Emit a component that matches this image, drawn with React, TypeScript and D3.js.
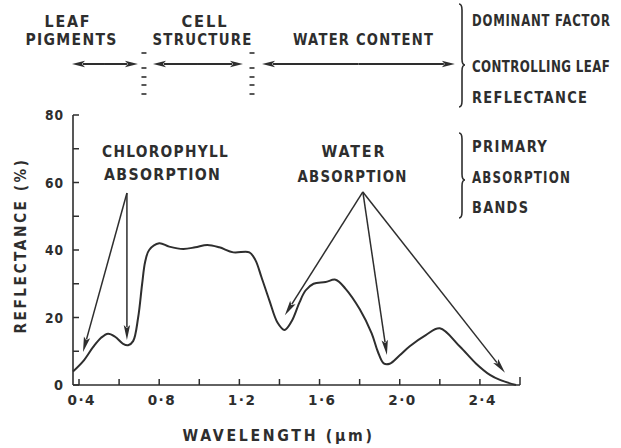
import React from "react";
import * as d3 from "d3";

// Wavelength (µm) and reflectance (%)
const wavelength = [0.37, 0.42, 0.47, 0.51, 0.545, 0.58, 0.62, 0.645, 0.67, 0.695, 0.715, 0.73, 0.75, 0.8, 0.85, 0.92, 0.98, 1.04, 1.1, 1.17, 1.25, 1.28, 1.31, 1.35, 1.39, 1.425, 1.46, 1.5, 1.53, 1.57, 1.63, 1.68, 1.73, 1.8, 1.86, 1.89, 1.92, 1.95, 2.0, 2.05, 2.13, 2.2, 2.3, 2.38, 2.45, 2.5, 2.58];
const reflectance = [4, 7, 11.2, 14, 15.2, 14.3, 12.2, 11.8, 13, 20, 30, 36.5, 40, 42, 41, 40.3, 40.8, 41.5, 40.8, 39.3, 39.3, 37, 32, 25, 18.5, 16.3, 18.8, 24.5, 28, 30, 30.5, 31.2, 28.5, 22.5, 15.3, 10, 6.4, 6.3, 8.8, 11.5, 14.8, 16.8, 11.4, 6.4, 3, 1.5, 0];

const yTicks = [0, 10, 20, 30, 40, 50, 60, 70, 80];
const yLabels = [0, 20, 40, 60, 80];
const xTicks = [0.4, 0.6, 0.8, 1.0, 1.2, 1.4, 1.6, 1.8, 2.0, 2.2, 2.4, 2.6];
const xLabels = ["0·4", "0·8", "1·2", "1·6", "2·0", "2·4"];
const xLabelValues = [0.4, 0.8, 1.2, 1.6, 2.0, 2.4];

// Absorption annotations: apex and arrow tips in data units [µm, %]
const chlApex = [0.639, 56.9];
const chlTips = [[0.42, 9.8], [0.639, 13.3]];
const waterApex = [1.816, 57.2];
const waterTips = [[1.427, 20.7], [1.936, 8.9], [2.525, 3.6]];

// Top factor ranges (µm)
const factorArrows = [[0.365, 0.694], [0.769, 1.218], [1.313, 2.275]];
const factorDividers = [0.724, 1.263];

const INK = "#2e2e2e";
const FAMILY = "DejaVu Sans";
const FONT = "'DejaVu Sans', Verdana, sans-serif";

let _ctx = null;
function measure(text, size, weight) {
  if (!_ctx) _ctx = document.createElement("canvas").getContext("2d");
  _ctx.font = `${weight} ${size}px '${FAMILY}'`;
  return _ctx.measureText(text).width;
}

function Arrow({ x1, y1, x2, y2, len = 15, half = 3.2, sw = 1.5 }) {
  const dx = x2 - x1, dy = y2 - y1;
  const L = Math.hypot(dx, dy);
  const ux = dx / L, uy = dy / L;
  const bx = x2 - ux * len, by = y2 - uy * len;
  const px = -uy * half, py = ux * half;
  return (
    <g>
      <line x1={x1} y1={y1} x2={bx + ux * 2} y2={by + uy * 2} stroke={INK} strokeWidth={sw} />
      <path d={`M${x2},${y2}L${bx + px},${by + py}L${bx + ux * 3},${by + uy * 3}L${bx - px},${by - py}Z`} fill={INK} />
    </g>
  );
}

// Text fitted to a measured width: glyphs condensed horizontally, letter-spacing kept
function T({ x, y, w, size = 15, anchor = "start", ls = 1, weight = 700, children }) {
  const s = String(children);
  const nat = measure(s, size, weight) + ls * (s.length - 1);
  const sx = w / nat;
  const left = anchor === "middle" ? x - w / 2 : anchor === "end" ? x - w : x;
  return (
    <text transform={`translate(${left},${y}) scale(${sx},1)`} x={0} y={0} fontSize={size} fontWeight={weight}
      fontFamily={FONT} fill={INK} letterSpacing={ls}>{s}</text>
  );
}

function Brace({ x, y1, y2, ym, w = 3, r = 6 }) {
  const d = `M${x},${y1} Q${x + w},${y1} ${x + w},${y1 + r} L${x + w},${ym - r} Q${x + w},${ym} ${x + 2 * w},${ym} Q${x + w},${ym} ${x + w},${ym + r} L${x + w},${y2 - r} Q${x + w},${y2} ${x},${y2}`;
  return <path d={d} fill="none" stroke={INK} strokeWidth={1.6} />;
}

export default function App() {
  const x = d3.scaleLinear().domain([0.37, 2.6]).range([73, 520]);
  const y = d3.scaleLinear().domain([0, 80]).range([385, 115]);
  const pts = wavelength.map((w, i) => [w, reflectance[i]]);
  const line = d3.line().x((d) => x(d[0])).y((d) => y(d[1])).curve(d3.curveCatmullRom.alpha(0.5));
  const arrowY = 64;

  return (
    <svg width={621} height={448} style={{ position: "absolute", left: 0, top: 0, background: "#fff" }}>
      <rect width={621} height={448} fill="#fff" />
      {/* top factor labels */}
      <T x={67} y={27} w={45} size={16} anchor="middle" ls={2}>LEAF</T>
      <T x={71} y={45} w={91} size={16} anchor="middle" ls={1.5}>PIGMENTS</T>
      <T x={204} y={27} w={45} size={16} anchor="middle" ls={2}>CELL</T>
      <T x={202} y={45} w={99} size={16} anchor="middle" ls={1.5}>STRUCTURE</T>
      <T x={363} y={45} w={140} size={16} anchor="middle" ls={1.5}>WATER CONTENT</T>
      {factorArrows.map(([a, b], i) => {
        const xa = x(a), xb = x(b), m = (xa + xb) / 2;
        return (
          <g key={i}>
            <Arrow x1={m} y1={arrowY} x2={xa} y2={arrowY} len={13} half={3.2} sw={2} />
            <Arrow x1={m} y1={arrowY} x2={xb} y2={arrowY} len={13} half={3.2} sw={2} />
          </g>
        );
      })}
      {factorDividers.map((v, i) => (
        <g key={i}>
          {[53, 68, 77, 85, 94].map((yy) => (
            <line key={yy} x1={x(v) - 2.5} x2={x(v) + 2.5} y1={yy} y2={yy} stroke={INK} strokeWidth={1.6} />
          ))}
        </g>
      ))}
      <Brace x={459} y1={4} y2={107} ym={65} />
      <T x={472} y={26} w={138} size={15}>DOMINANT FACTOR</T>
      <T x={472} y={72} w={138} size={15} ls={0.5}>CONTROLLING LEAF</T>
      <T x={472} y={103} w={115} size={15} ls={1.5}>REFLECTANCE</T>

      <Brace x={459} y1={133} y2={218} ym={180} />
      <T x={472} y={152} w={75} size={15} ls={1.5}>PRIMARY</T>
      <T x={472} y={183} w={98} size={15} ls={1.5}>ABSORPTION</T>
      <T x={472} y={213} w={56} size={15} ls={1.5}>BANDS</T>

      {/* axes */}
      <line x1={x(0.37)} x2={x(0.37)} y1={y(0)} y2={y(80)} stroke={INK} strokeWidth={1.6} />
      <line x1={x(0.37)} x2={x(2.6)} y1={y(0)} y2={y(0)} stroke={INK} strokeWidth={1.6} />
      {yTicks.map((t) => (
        <line key={t} x1={x(0.37)} x2={x(0.37) + 6} y1={y(t)} y2={y(t)} stroke={INK} strokeWidth={1.5} />
      ))}
      {yLabels.map((t) => (
        <T key={t} x={63} y={y(t) + 5} size={14} anchor="end" ls={1} w={t === 0 ? 9 : 18}>{String(t)}</T>
      ))}
      {xTicks.map((t) => (
        <line key={t} x1={x(t)} x2={x(t)} y1={y(0)} y2={y(0) - (t === 2.6 ? 8 : 6)} stroke={INK} strokeWidth={1.5} />
      ))}
      {xLabels.map((l, i) => (
        <T key={l} x={x(xLabelValues[i]) + 2} y={405} size={14} anchor="middle" ls={1.5} w={27}>{l}</T>
      ))}
      <T x={281} y={441} w={197} size={16} anchor="middle" ls={3}>{"WAVELENGTH  (µm)"}</T>
      <g transform="translate(26,243) rotate(-90)">
        <T x={0} y={0} w={181} size={16} anchor="middle" ls={3}>{"REFLECTANCE  (%)"}</T>
      </g>

      {/* curve */}
      <path d={line(pts)} fill="none" stroke={INK} strokeWidth={2} strokeLinejoin="round" />

      {/* annotations */}
      <T x={165} y={157} w={126} size={16} anchor="middle" ls={1.5}>CHLOROPHYLL</T>
      <T x={162} y={180} w={116} size={16} anchor="middle" ls={1.5}>ABSORPTION</T>
      {chlTips.map((p, i) => (
        <Arrow key={i} x1={x(chlApex[0])} y1={y(chlApex[1])} x2={x(p[0])} y2={y(p[1])} />
      ))}
      <T x={353} y={157} w={63} size={16} anchor="middle" ls={2}>WATER</T>
      <T x={352} y={182} w={109} size={16} anchor="middle" ls={1.5}>ABSORPTION</T>
      {waterTips.map((p, i) => (
        <Arrow key={i} x1={x(waterApex[0])} y1={y(waterApex[1])} x2={x(p[0])} y2={y(p[1])} />
      ))}
    </svg>
  );
}
